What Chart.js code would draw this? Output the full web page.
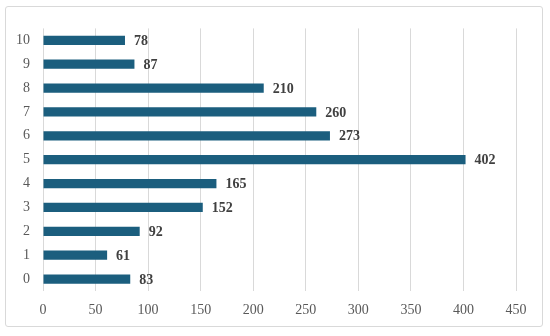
<!DOCTYPE html>
<html lang="en">
<head>
  <meta charset="UTF-8">
  <title>Bar chart</title>
  <script src="https://cdn.jsdelivr.net/npm/chart.js@4.4.0/dist/chart.umd.min.js"></script>
  <style>
    html, body { margin: 0; padding: 0; background: #fff; }
    #box {
      position: absolute; left: 5px; top: 6px;
      width: 536px; height: 319px;
      border: 1px solid #d9d9d9; border-radius: 3px;
    }
  </style>
</head>
<body>
<div id="box"><canvas id="bar-chart" width="536" height="319"></canvas></div>
<script>
  var categories = ['0', '1', '2', '3', '4', '5', '6', '7', '8', '9', '10'];
  var values = [83, 61, 92, 152, 165, 402, 273, 260, 210, 87, 78];
  var xTicks = [0, 50, 100, 150, 200, 250, 300, 350, 400, 450];

  // draws the value next to each bar
  var valueLabels = {
    id: 'valueLabels',
    afterDatasetsDraw: function(chart) {
      var ctx = chart.ctx;
      var meta = chart.getDatasetMeta(0);
      ctx.save();
      ctx.font = 'bold 14px "Liberation Serif"';
      ctx.fillStyle = '#404040';
      ctx.textBaseline = 'middle';
      meta.data.forEach(function(bar, i) {
        ctx.fillText(values[i], bar.x + 9, bar.y + 1);
      });
      ctx.restore();
    }
  };

  var ctx = document.getElementById('bar-chart').getContext('2d');
  var myChart = new Chart(ctx, {
    type: 'bar',
    data: {
      labels: categories,
      datasets: [{
        data: values,
        backgroundColor: '#1b5e7e',
        barPercentage: 0.78,
        categoryPercentage: 0.5
      }]
    },
    options: {
      responsive: false,
      animation: false,
      indexAxis: 'y',
      layout: { padding: { left: 0, right: 26, top: 16, bottom: 0 } },
      plugins: {
        legend: { display: false },
        tooltip: { enabled: false }
      },
      scales: {
        x: {
          min: 0,
          max: 450,
          afterBuildTicks: function(axis) {
            axis.ticks = xTicks.map(function(v) { return { value: v }; });
          },
          afterFit: function(axis) { axis.height = 35; },
          grid: { color: '#d9d9d9', drawTicks: false },
          border: { display: false },
          ticks: {
            color: '#595959',
            padding: 11,
            font: { family: 'Liberation Serif', size: 14 }
          }
        },
        y: {
          reverse: true,
          afterFit: function(axis) { axis.width = 37; },
          grid: { display: false, drawTicks: false },
          border: { display: false },
          ticks: {
            color: '#595959',
            padding: 13,
            font: { family: 'Liberation Serif', size: 14 }
          }
        }
      }
    },
    plugins: [valueLabels]
  });
</script>
</body>
</html>
